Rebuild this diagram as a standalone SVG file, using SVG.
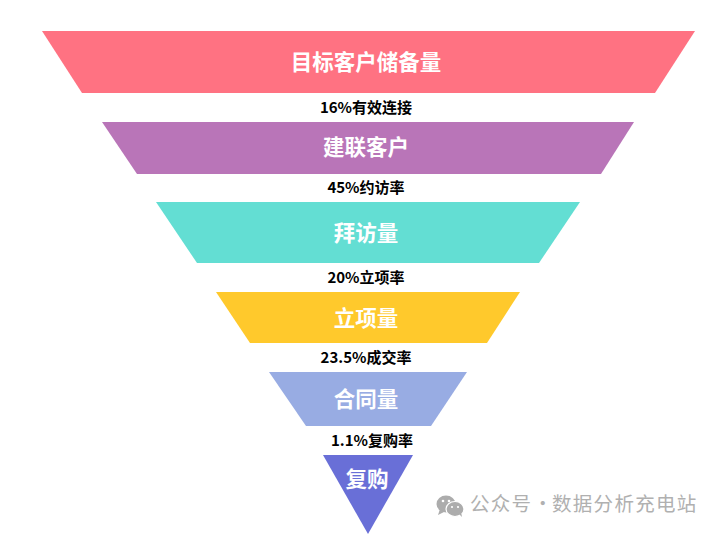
<svg xmlns="http://www.w3.org/2000/svg" width="720" height="534" viewBox="0 0 720 534">
<style>
text{font-family:"Noto Sans CJK SC","Noto Sans",sans-serif;text-anchor:middle}
.t{font-size:21.500px;font-weight:700;fill:#fff}
.l{font-size:15px;font-weight:700;fill:#000}
.w{font-size:19.500px;fill:#b0b0b0;text-anchor:start;letter-spacing:1.300px}
</style>
<rect width="720" height="534" fill="#fff"/>
<g id="stage1"><polygon points="42,31 695,31 655,93 82,93" fill="#ff7282"/><text class="t" x="366" y="70">目标客户储备量</text></g>
<g id="rate1"><text class="l" x="366" y="113">16%有效连接</text></g>
<g id="stage2"><polygon points="102,122 634,122 601,174 137,174" fill="#b975b8"/><text class="t" x="366" y="155">建联客户</text></g>
<g id="rate2"><text class="l" x="366" y="193">45%约访率</text></g>
<g id="stage3"><polygon points="156,202 580,202 539,263 197,263" fill="#63ded3"/><text class="t" x="366" y="241">拜访量</text></g>
<g id="rate3"><text class="l" x="366" y="283">20%立项率</text></g>
<g id="stage4"><polygon points="216,292 520,292 487,343 250,343" fill="#ffc92c"/><text class="t" x="366" y="326">立项量</text></g>
<g id="rate4"><text class="l" x="366" y="363">23.5%成交率</text></g>
<g id="stage5"><polygon points="269,372 467,372 431,426 306,426" fill="#98ace3"/><text class="t" x="366" y="407">合同量</text></g>
<g id="rate5"><text class="l" x="372" y="446">1.1%复购率</text></g>
<g id="stage6"><polygon points="323,455 413,455 368,534" fill="#696fd7"/><text class="t" x="367" y="487">复购</text></g>
<g id="watermark">
<ellipse cx="446" cy="504" rx="9.500" ry="8.500" fill="#acacac"/><path d="M440 509l-2 6 6-3z" fill="#acacac"/>
<ellipse cx="455" cy="509" rx="9" ry="7.500" fill="#acacac" stroke="#fff" stroke-width="1.200"/><path d="M459 514l3 3-1-5z" fill="#acacac"/>
<circle cx="443" cy="501" r="1.300" fill="#fff"/><circle cx="449" cy="501" r="1.300" fill="#fff"/><circle cx="452" cy="507" r="1.100" fill="#fff"/><circle cx="458" cy="507" r="1.100" fill="#fff"/>
<text class="w" y="511"><tspan x="470">公众号</tspan><tspan x="533">·</tspan><tspan x="552">数据分析充电站</tspan></text>
</g>
</svg>
